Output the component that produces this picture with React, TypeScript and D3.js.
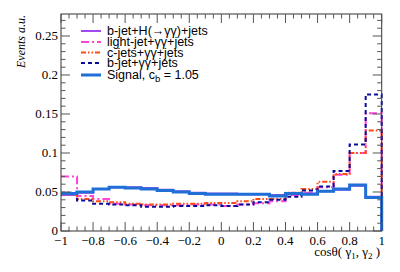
import React from "react";
import * as d3 from "d3";

const binLow = [-1, -0.9, -0.8, -0.7, -0.6, -0.5, -0.4, -0.3, -0.2, -0.1, 0, 0.1, 0.2, 0.3, 0.4, 0.5, 0.6, 0.7, 0.8, 0.9];
const binWidth = 0.1;

const bjetH = [0.046, 0.049, 0.054, 0.056, 0.056, 0.055, 0.053, 0.051, 0.049, 0.048, 0.048, 0.047, 0.047, 0.046, 0.047, 0.048, 0.051, 0.053, 0.058, 0.044];
const lightJet = [0.070, 0.045, 0.041, 0.035, 0.034, 0.033, 0.033, 0.033, 0.034, 0.034, 0.032, 0.034, 0.0355, 0.038, 0.046, 0.049, 0.056, 0.072, 0.100, 0.151];
const cJets = [0.047, 0.041, 0.038, 0.037, 0.035, 0.034, 0.034, 0.035, 0.035, 0.036, 0.036, 0.038, 0.041, 0.041, 0.049, 0.054, 0.063, 0.073, 0.100, 0.129];
const bJet = [0.049, 0.039, 0.035, 0.034, 0.033, 0.031, 0.031, 0.032, 0.032, 0.033, 0.032, 0.034, 0.037, 0.040, 0.044, 0.052, 0.057, 0.077, 0.111, 0.175];
const signal = [0.048, 0.050, 0.054, 0.056, 0.055, 0.054, 0.052, 0.050, 0.048, 0.047, 0.047, 0.047, 0.047, 0.045, 0.048, 0.047, 0.051, 0.054, 0.059, 0.043];

const yTicks = [0, 0.05, 0.1, 0.15, 0.2, 0.25];
const xTicks = [-1, -0.8, -0.6, -0.4, -0.2, 0, 0.2, 0.4, 0.6, 0.8, 1];

type Series = { label: React.ReactNode; values: number[]; color: string; width: number; dash?: string };

const series: Series[] = [
  { label: "b-jet+H(→γγ)+jets", values: bjetH, color: "#a24af2", width: 2 },
  { label: "light-jet+γγ+jets", values: lightJet, color: "#ff44dc", width: 2, dash: "8 3 2 3" },
  { label: "c-jets+γγ+jets", values: cJets, color: "#ff4a14", width: 2, dash: "5 2 1.5 2 1.5 2" },
  { label: "b-jet+γγ+jets", values: bJet, color: "#0c0c9c", width: 2, dash: "4 3" },
  {
    label: (
      <>
        Signal, c<tspan baselineShift="-30%" fontSize="9.5">b</tspan> = 1.05
      </>
    ),
    values: signal,
    color: "#1f6fd6",
    width: 3,
  },
];

const W = 400;
const H = 272;
const L = 61;
const R = 381.7;
const T = 14;
const B = 231;

export default function App() {
  const x = d3.scaleLinear().domain([-1, 1]).range([L, R]);
  const y = d3.scaleLinear().domain([0, 0.2782]).range([B, T]);

  const stepPath = (vals: number[]) => {
    let d = `M${x(binLow[0])},${y(vals[0])}`;
    vals.forEach((v, i) => {
      if (i > 0) d += `V${y(v)}`;
      d += `H${x(binLow[i] + binWidth)}`;
    });
    d += `V${y(0)}`;
    return d;
  };

  const xMinor = d3.range(-1, 1.0001, 0.05);
  const yMinor = d3.range(0, 0.278, 0.01);
  const tickColor = "#555";
  const serif = "'Liberation Serif', 'DejaVu Serif', serif";
  const sans = "'Liberation Sans', Arial, sans-serif";

  const legendY = [31, 42, 52.5, 63, 75];

  return (
    <div style={{ position: "absolute", left: 0, top: 0 }}>
      <svg width={W} height={H} viewBox={`0 0 ${W} ${H}`} style={{ display: "block", background: "#fff" }}>
        <rect x={0} y={0} width={W} height={H} fill="#fff" />
        {series.map((s, i) => (
          <path
            key={i}
            d={stepPath(s.values)}
            fill="none"
            stroke={s.color}
            strokeWidth={s.width}
            strokeDasharray={s.dash}
          />
        ))}
        <rect x={L} y={T} width={R - L} height={B - T} fill="none" stroke="#333" strokeWidth={1} />
        {xMinor.map((t, i) => {
          const major = xTicks.some((m) => Math.abs(m - t) < 1e-6);
          const len = major ? 9 : 4.5;
          const px = x(t);
          return (
            <g key={"xt" + i}>
              <line x1={px} x2={px} y1={B} y2={B - len} stroke={tickColor} strokeWidth={1} />
              <line x1={px} x2={px} y1={T} y2={T + len} stroke={tickColor} strokeWidth={1} />
            </g>
          );
        })}
        {yMinor.map((t, i) => {
          const major = yTicks.some((m) => Math.abs(m - t) < 1e-6);
          const len = major ? 9 : 4.5;
          const py = y(t);
          return (
            <g key={"yt" + i}>
              <line x1={L} x2={L + len} y1={py} y2={py} stroke={tickColor} strokeWidth={1} />
              <line x1={R} x2={R - len} y1={py} y2={py} stroke={tickColor} strokeWidth={1} />
            </g>
          );
        })}
        {yTicks.map((t) => (
          <text key={"yl" + t} x={L - 3} y={y(t) + 4} textAnchor="end" fontFamily={serif} fontSize={13} fill="#000">
            {String(t)}
          </text>
        ))}
        {xTicks.map((t) => (
          <text key={"xl" + t} x={x(t)} y={B + 14} textAnchor="middle" fontFamily={serif} fontSize={13} fill="#000">
            {t < 0 ? "\u2212" + String(-t) : String(t)}
          </text>
        ))}
        <text x={380} y={256} textAnchor="end" fontFamily={serif} fontSize={13} fill="#000">
          cosθ( γ<tspan baselineShift="-30%" fontSize="9">1</tspan>, γ<tspan baselineShift="-30%" fontSize="9">2</tspan> )
        </text>
        <text
          transform={`translate(24.5,15) rotate(-90)`}
          textAnchor="end"
          fontFamily={serif}
          fontStyle="italic"
          fontSize={12}
          fill="#000"
        >
          Events a.u.
        </text>
        {series.map((s, i) => (
          <g key={"lg" + i}>
            <line
              x1={81}
              x2={101}
              y1={legendY[i]}
              y2={legendY[i]}
              stroke={s.color}
              strokeWidth={s.width}
              strokeDasharray={s.dash}
            />
            <text x={107} y={legendY[i] + 4.3} fontFamily={sans} fontSize={12.5} fill="#000">
              {s.label}
            </text>
          </g>
        ))}
      </svg>
    </div>
  );
}
